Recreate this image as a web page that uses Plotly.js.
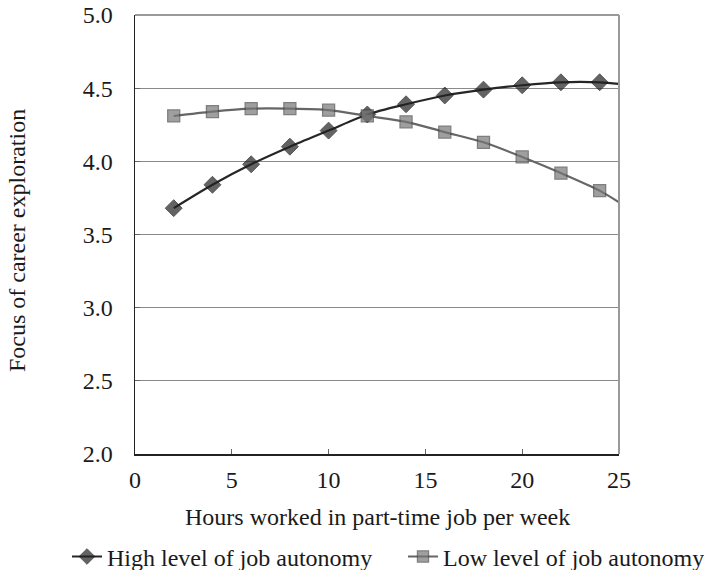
<!DOCTYPE html>
<html>
<head>
<meta charset="utf-8">
<script src="https://cdn.plot.ly/plotly-3.0.1.min.js"></script>
<style>html,body{margin:0;padding:0;background:#fff;}#chart{width:704px;height:570px;}</style>
</head>
<body>
<div id="chart"></div>
<script>
// Hours worked (last point 25 is the curve's end at the plot edge, no marker)
const hours = [2, 4, 6, 8, 10, 12, 14, 16, 18, 20, 22, 24, 25];
const highAutonomy = [3.68, 3.84, 3.98, 4.10, 4.21, 4.32, 4.39, 4.45, 4.49, 4.52, 4.54, 4.54, 4.53];
const lowAutonomy  = [4.31, 4.34, 4.36, 4.36, 4.35, 4.31, 4.27, 4.20, 4.13, 4.03, 3.92, 3.80, 3.72];
const seriesNames = ["High level of job autonomy", "Low level of job autonomy"];
const xTitle = "Hours worked in part-time job per week";
const yTitle = "Focus of career exploration";
const xTicks = [0, 5, 10, 15, 20, 25];
const yTicks = [2.0, 2.5, 3.0, 3.5, 4.0, 4.5, 5.0];

const shown = hours.map(h => (h <= 24 ? 1 : 0));
const font = {family: "'Liberation Serif', 'Times New Roman', serif", size: 24, color: "#1a1a1a"};

const traces = [
  {
    x: hours, y: highAutonomy, name: seriesNames[0], type: "scatter", mode: "lines+markers",
    legend: "legend",
    line: {color: "#262626", width: 2.2, shape: "spline", smoothing: 0.8},
    marker: {symbol: "diamond", size: shown.map(s => s * 13), color: "#222222",
             line: {color: "#111111", width: 1}},
    cliponaxis: true
  },
  {
    x: hours, y: lowAutonomy, name: seriesNames[1], type: "scatter", mode: "lines+markers",
    legend: "legend2",
    line: {color: "#666666", width: 2.2, shape: "spline", smoothing: 0.8},
    marker: {symbol: "square", size: shown.map(s => s * 12), color: "#777777",
             line: {color: "#4a4a4a", width: 1.3}},
    cliponaxis: true
  }
];

const legendBase = {orientation: "v", xref: "container", yref: "container", xanchor: "left",
                    y: 0.023, yanchor: "middle", font: font, itemwidth: 30,
                    borderwidth: 0, bgcolor: "rgba(0,0,0,0)"};

const layout = {
  width: 704, height: 570,
  margin: {l: 135, r: 85, t: 15, b: 116, autoexpand: false},
  paper_bgcolor: "#fff", plot_bgcolor: "#fff",
  font: font,
  showlegend: true,
  legend: Object.assign({}, legendBase, {x: 67 / 704}),
  legend2: Object.assign({}, legendBase, {x: 403 / 704}),
  xaxis: {
    range: [0, 25], tickvals: xTicks, ticktext: xTicks.map(String),
    showgrid: false, zeroline: false, automargin: false,
    showline: true, linecolor: "#222", linewidth: 1.5, mirror: false,
    ticks: "inside", ticklen: 5, tickcolor: "#666", tickwidth: 1,
    ticklabelstandoff: 4
  },
  yaxis: {
    range: [2.0, 5.0], tickvals: yTicks, ticktext: yTicks.map(v => v.toFixed(1)),
    showgrid: true, gridcolor: "#8a8a8a", gridwidth: 1, zeroline: false, automargin: false,
    showline: true, linecolor: "#222", linewidth: 1.5,
    ticks: "inside", ticklen: 5, tickcolor: "#666", tickwidth: 1,
    ticklabelstandoff: 16
  },
  annotations: [
    {text: xTitle, xref: "paper", yref: "paper", x: 0.5, y: -0.1435,
     xanchor: "center", yanchor: "middle", showarrow: false, font: font},
    {text: yTitle, xref: "paper", yref: "paper", x: -0.2438, y: 0.485,
     xanchor: "center", yanchor: "middle", showarrow: false, textangle: -90, font: font}
  ],
  shapes: [
    {type: "line", xref: "paper", yref: "paper", x0: 0, x1: 1, y0: 1, y1: 1,
     line: {color: "#9a9a9a", width: 2}},
    {type: "line", xref: "paper", yref: "paper", x0: 1, x1: 1, y0: 0, y1: 1,
     line: {color: "#9a9a9a", width: 2}}
  ]
};

Plotly.newPlot("chart", traces, layout, {displayModeBar: false, staticPlot: true});
</script>
</body>
</html>
